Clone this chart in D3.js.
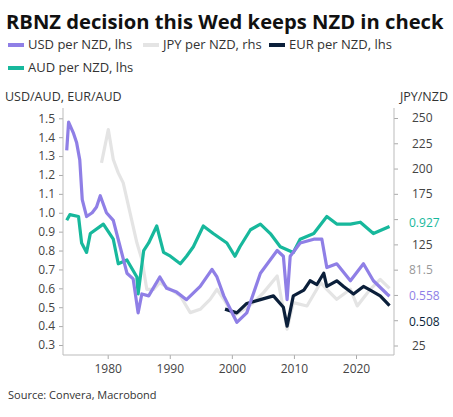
<!DOCTYPE html><html><head><meta charset="utf-8"><script src="https://cdn.jsdelivr.net/npm/d3@7"></script>
<style>body{margin:0;background:#fff}text{font-family:"Open Sans",sans-serif}</style></head><body><svg id="c" width="453" height="417"></svg><script>
const usd=[[1973.4,1.33],[1973.7,1.48],[1974.5,1.42],[1975,1.37],[1975.5,1.28],[1975.9,1.07],[1976.6,0.98],[1977.5,1.0],[1978.2,1.03],[1978.8,1.09],[1979.8,1.0],[1980.9,0.96],[1982,0.82],[1983.1,0.68],[1984.1,0.65],[1984.9,0.47],[1985.5,0.57],[1986.6,0.56],[1988.4,0.66],[1989.5,0.6],[1991.1,0.58],[1992.7,0.54],[1994.9,0.61],[1996.8,0.7],[1997.6,0.66],[1998.7,0.56],[2000.8,0.42],[2002.4,0.47],[2004.6,0.68],[2007.3,0.8],[2008.3,0.77],[2008.9,0.54],[2009.4,0.77],[2011,0.84],[2013.2,0.86],[2014.5,0.86],[2015.3,0.71],[2016.9,0.73],[2019.1,0.64],[2021.2,0.73],[2022.8,0.64],[2025,0.57],[2025.4,0.558]];
const aud=[[1973.4,0.96],[1973.9,0.99],[1975.3,0.98],[1975.8,0.84],[1976.6,0.79],[1977.2,0.89],[1979.3,0.94],[1980.9,0.86],[1981.7,0.73],[1983.1,0.75],[1984.7,0.66],[1984.9,0.57],[1985.8,0.8],[1986.6,0.84],[1987.9,0.93],[1989,0.79],[1990.1,0.77],[1991.7,0.73],[1992.7,0.77],[1993.8,0.82],[1995.4,0.93],[1997,0.89],[1999.2,0.84],[2000.5,0.77],[2001.3,0.82],[2003,0.91],[2004.6,0.94],[2006.2,0.89],[2007.8,0.82],[2009.9,0.79],[2011,0.86],[2013.2,0.89],[2015.3,0.98],[2016.9,0.94],[2019.1,0.94],[2020.7,0.95],[2022.8,0.89],[2025.4,0.927]];
const jpy=[[1979,205.6],[1980.1,238.5],[1980.9,208.9],[1981.7,195.7],[1982.5,185.8],[1983.6,156.2],[1984.7,126.6],[1985.5,110.2],[1986.3,80.6],[1987.4,80.6],[1988.4,87.1],[1990.1,80.6],[1991.7,74],[1993.3,57.5],[1994.9,60.8],[1996.5,70.7],[1997.6,80.6],[1998.7,70.7],[2000.3,54.2],[2001.9,60.8],[2003.5,67.4],[2005.1,77.3],[2007.3,93.7],[2008.9,41.1],[2009.9,67.4],[2012.1,64.1],[2014.3,87.1],[2015.3,80.6],[2016.9,70.7],[2019.1,80.6],[2020.2,64.1],[2022.3,80.6],[2023.9,90.4],[2025.4,81.5]];
const eur=[[1998.9,0.49],[2000.8,0.47],[2002.4,0.52],[2004.6,0.54],[2006.7,0.56],[2008.3,0.5],[2008.9,0.4],[2009.9,0.56],[2011.6,0.59],[2012.6,0.64],[2013.7,0.62],[2014.8,0.68],[2015.3,0.61],[2016.9,0.64],[2018,0.61],[2019.6,0.57],[2021.2,0.61],[2022.3,0.59],[2023.9,0.56],[2025.4,0.508]];
const leftTicks=[0.3,0.4,0.5,0.6,0.7,0.8,0.9,1.0,1.1,1.2,1.3,1.4,1.5];
const rightTicks=[25,50,75,100,125,150,175,200,225,250];
const rightShown=[25,125,175,200,225,250];
const xTicks=[1980,1990,2000,2010,2020];
const lastLabels=[["0.927",0.927,"l","#17b89c",-4],["81.5",81.5,"r","#999",-18],["0.558",0.558,"l","#8f7fe6",0],["0.508",0.508,"l","#0b1f3a",16]];
const C={usd:"#8f7fe6",aud:"#17b89c",jpy:"#e4e4e4",eur:"#0b1f3a"};
const svg=d3.select("#c");
const L=63,R=394,T=108,B=355;
const x=d3.scaleLinear().domain([1980,2020]).range([107.7,356]);
const yl=d3.scaleLinear().domain([0.3,1.5]).range([345,118.3]);
const yr=d3.scaleLinear().domain([25,250]).range([345.5,118]);
svg.append("text").attr("x",6).attr("y",29).attr("font-size",20.2).attr("font-weight",700).attr("fill","#111").text("RBNZ decision this Wed keeps NZD in check");
const leg=[["USD per NZD, lhs",C.usd,8,49],["JPY per NZD, rhs",C.jpy,143,49],["EUR per NZD, lhs",C.eur,269,49],["AUD per NZD, lhs",C.aud,8,72]];
leg.forEach(d=>{svg.append("line").attr("x1",d[2]).attr("x2",d[2]+16).attr("y1",d[3]-4).attr("y2",d[3]-4).attr("stroke",d[1]).attr("stroke-width",4);
svg.append("text").attr("x",d[2]+20).attr("y",d[3]).attr("font-size",13).attr("fill","#333").text(d[0]);});
svg.append("text").attr("x",5).attr("y",101).attr("font-size",12.5).attr("fill","#333").text("USD/AUD, EUR/AUD");
svg.append("text").attr("x",448).attr("y",101).attr("text-anchor","end").attr("font-size",12.5).attr("fill","#333").text("JPY/NZD");
const ax=g=>{g.selectAll("path,line").attr("stroke","#aaa");g.selectAll("text").attr("fill","#444").attr("font-size",12).attr("font-family","'Open Sans',sans-serif");};
svg.append("g").attr("transform",`translate(${L},0)`).call(d3.axisLeft(yl).tickValues(leftTicks).tickFormat(d3.format(".1f")).tickSize(4).tickPadding(4).tickSizeOuter(0)).call(ax);
svg.append("g").attr("transform",`translate(${R},0)`).call(d3.axisRight(yr).tickValues(rightTicks).tickFormat(d=>rightShown.includes(d)?d:"").tickSize(4).tickPadding(14).tickSizeOuter(0)).call(ax);
svg.append("g").attr("transform",`translate(0,${B})`).call(d3.axisBottom(x).tickValues(xTicks).tickFormat(d3.format("d")).tickSize(4).tickPadding(5).tickSizeOuter(0)).call(ax);
svg.selectAll(".domain").remove();
svg.append("line").attr("x1",L).attr("x2",L).attr("y1",T).attr("y2",B).attr("stroke","#bbb");
svg.append("line").attr("x1",R).attr("x2",R).attr("y1",T).attr("y2",B).attr("stroke","#bbb");
svg.append("line").attr("x1",L).attr("x2",R).attr("y1",B).attr("y2",B).attr("stroke","#bbb");
const ll=d3.line().x(d=>x(d[0])).y(d=>yl(d[1]));
const lr=d3.line().x(d=>x(d[0])).y(d=>yr(d[1]));
svg.append("path").attr("d",lr(jpy)).attr("fill","none").attr("stroke",C.jpy).attr("stroke-width",3.2).attr("stroke-linejoin","round");
svg.append("path").attr("d",ll(eur)).attr("fill","none").attr("stroke",C.eur).attr("stroke-width",3.2).attr("stroke-linejoin","round");
svg.append("path").attr("d",ll(aud)).attr("fill","none").attr("stroke",C.aud).attr("stroke-width",3.2).attr("stroke-linejoin","round");
svg.append("path").attr("d",ll(usd)).attr("fill","none").attr("stroke",C.usd).attr("stroke-width",3.2).attr("stroke-linejoin","round");
lastLabels.forEach(d=>{const yy=d[2]=="l"?yl(d[1]):yr(d[1]);
svg.append("text").attr("x",409).attr("y",yy+4+d[4]).attr("font-size",12).attr("fill",d[3]).text(d[0]);});
svg.append("text").attr("x",8).attr("y",399).attr("font-size",11).attr("fill","#333").text("Source: Convera, Macrobond");
</script></body></html>
